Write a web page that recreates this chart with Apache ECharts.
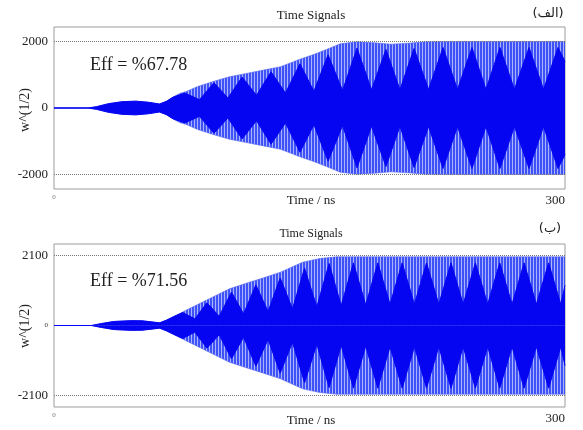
<!DOCTYPE html>
<html><head><meta charset="utf-8">
<script src="https://cdn.jsdelivr.net/npm/echarts@6/dist/echarts.min.js"></script>
<style>html,body{margin:0;padding:0;background:#fff}#c{width:583px;height:430px}</style>
</head><body><div id="c"></div>
<script>
// ---- data (envelopes of the time signals) ----
const xTickLabels = [0, 300];
const topTicks = [-2000, 0, 2000];
const botTicks = [-2100, 0, 2100];

// panel (الف): outer envelope
const topOuterT = [0, 20, 25, 32, 40, 48, 55, 62, 66, 70, 74, 78, 84, 93, 103, 113, 123, 133, 144, 152, 160, 168, 178, 188, 198, 208, 218, 230, 300];
const topOuterV = [0, 0, 40, 130, 190, 205, 175, 120, 200, 330, 440, 500, 640, 790, 940, 1040, 1140, 1240, 1460, 1600, 1760, 1930, 1990, 1960, 1920, 1950, 1990, 2000, 2000];
// panel (الف): dense (dark) core, beat peaks and nodes
const topInnerT = [0, 20, 25, 32, 40, 48, 55, 62, 66, 70, 76.9, 85.4, 93.9, 102.1, 110.4, 118.9, 127.4, 135.9, 144.4, 152.6, 160.9, 169.4, 177.9, 186.4, 194.9, 203.1, 211.4, 219.9, 228.4, 236.9, 245.4, 253.6, 261.8, 270.3, 278.9, 287.4, 295.9, 300];
const topInnerV = [0, 0, 40, 130, 190, 205, 175, 120, 200, 330, 450, 250, 760, 300, 930, 380, 1090, 450, 1330, 500, 1600, 530, 1800, 550, 1760, 550, 1790, 560, 1820, 560, 1820, 560, 1820, 560, 1820, 560, 1820, 1400];

// panel (ب): outer envelope
const botOuterT = [0, 22, 28, 35, 45, 52, 57, 62, 66, 70, 74, 78, 84, 93, 103, 113, 123, 133, 140, 146, 156, 166, 300];
const botOuterV = [0, 0, 60, 120, 145, 140, 110, 80, 160, 260, 360, 470, 620, 850, 1100, 1270, 1430, 1600, 1760, 1900, 2010, 2060, 2060];
// panel (ب): dense (dark) core
const botInnerT = [0, 22, 28, 35, 45, 52, 57, 62, 66, 70, 75.5, 82.7, 89.8, 97.0, 104.2, 111.3, 118.5, 125.7, 132.8, 140.0, 147.1, 154.3, 161.5, 168.6, 175.8, 183.0, 190.1, 197.3, 204.4, 211.6, 218.7, 225.9, 233.1, 240.2, 247.4, 254.6, 261.7, 268.9, 276.0, 283.2, 290.4, 297.5, 300];
const botInnerV = [0, 0, 60, 120, 145, 140, 110, 80, 160, 260, 390, 200, 680, 280, 1000, 350, 1220, 420, 1430, 500, 1720, 560, 1860, 600, 1880, 620, 1880, 640, 1880, 640, 1880, 640, 1880, 640, 1880, 640, 1880, 640, 1880, 640, 1880, 640, 1200];

// ---- styling ----
const SERIF = '"Liberation Serif", "DejaVu Serif", serif';
const DARK = '#0505f2';
function stripes() {
  const c = document.createElement('canvas');
  c.width = 3; c.height = 4;
  const g = c.getContext('2d');
  g.fillStyle = '#3f52f7'; g.fillRect(0, 0, 3, 4);
  g.fillStyle = '#a9b3fc'; g.fillRect(2, 0, 1, 4);
  return c;
}
const pat = { image: stripes(), repeat: 'repeat' };

function pairs(T, V, sign) { return T.map((t, i) => [t, sign * V[i]]); }

function panelSeries(idx, oT, oV, iT, iV, lines) {
  const base = { type: 'line', xAxisIndex: idx, yAxisIndex: idx, showSymbol: false, symbol: 'none', silent: true, animation: false };
  return [
    Object.assign({}, base, { data: pairs(oT, oV, 1), lineStyle: { width: 0.6, color: '#5566f8' }, areaStyle: { color: pat, opacity: 1, origin: 'auto' }, z: 2,
      markLine: { silent: true, symbol: 'none', label: { show: false }, animation: false, lineStyle: { type: 'dotted', color: '#777', width: 1 }, data: lines.map(v => ({ yAxis: v })) } }),
    Object.assign({}, base, { data: pairs(oT, oV, -1), lineStyle: { width: 0.6, color: '#5566f8' }, areaStyle: { color: pat, opacity: 1, origin: 'auto' }, z: 2 }),
    Object.assign({}, base, { data: pairs(iT, iV, 1), lineStyle: { width: 1, color: DARK }, areaStyle: { color: DARK, opacity: 1, origin: 'auto' }, z: 3 }),
    Object.assign({}, base, { data: pairs(iT, iV, -1), lineStyle: { width: 1, color: DARK }, areaStyle: { color: DARK, opacity: 1, origin: 'auto' }, z: 3 })
  ];
}

function xAxis(idx) {
  return {
    type: 'value', gridIndex: idx, min: 0, max: 300,
    axisLine: { show: false }, axisTick: { show: false }, splitLine: { show: false },
    axisLabel: {
      customValues: xTickLabels, margin: 5, alignMinLabel: 'center', alignMaxLabel: 'right',
      formatter: v => v === 0 ? '{s|0}' : '{b|' + v + '}',
      rich: { s: { fontSize: 7, color: '#777', fontFamily: SERIF, padding: [0, 0, 2, 0] }, b: { fontSize: 13, color: '#222', fontFamily: SERIF, padding: [0, 0, 0, 0] } }
    }
  };
}
function yAxis(idx, lim, ticks, smallZero) {
  return {
    type: 'value', gridIndex: idx, min: -lim, max: lim,
    axisLine: { show: false }, axisTick: { show: false }, splitLine: { show: false },
    axisLabel: {
      customValues: ticks, margin: 6,
      formatter: v => (v === 0 && smallZero) ? '{s|0}' : '{b|' + v + '}',
      rich: { s: { fontSize: 7, color: '#333', fontFamily: SERIF }, b: { fontSize: 13, color: '#222', fontFamily: SERIF } }
    }
  };
}

function txt(x, y, s, size, font, extra) {
  return Object.assign({ type: 'text', x: x, y: y, silent: true,
    style: { text: s, fontSize: size, fontFamily: font, fill: '#222', align: 'center', verticalAlign: 'middle' } }, extra || {});
}

const chart = echarts.init(document.getElementById('c'), null, { renderer: 'canvas' });
chart.setOption({
  animation: false,
  backgroundColor: '#fff',
  grid: [
    { left: 54, right: 18, top: 27, height: 162, show: true, borderColor: '#9c9c9c', borderWidth: 1, backgroundColor: 'transparent' },
    { left: 54, right: 18, top: 244, height: 163, show: true, borderColor: '#9c9c9c', borderWidth: 1, backgroundColor: 'transparent' }
  ],
  xAxis: [xAxis(0), xAxis(1)],
  yAxis: [yAxis(0, 2436, topTicks, false), yAxis(1, 2445, botTicks, true)],
  series: [].concat(
    panelSeries(0, topOuterT, topOuterV, topInnerT, topInnerV, [2000, -2000]),
    panelSeries(1, botOuterT, botOuterV, botInnerT, botInnerV, [2100, -2100])
  ),
  graphic: [
    txt(311, 16, 'Time Signals', 13, SERIF),
    txt(548, 14, '(الف)', 13, '"DejaVu Sans", "Noto Sans", sans-serif'),
    txt(311, 201, 'Time / ns', 13, SERIF),
    txt(25, 110, 'w^(1/2)', 14, SERIF, { rotation: Math.PI / 2 }),
    txt(90, 65, 'Eff = %67.78', 18, SERIF, { style: { text: 'Eff = %67.78', fontSize: 18, fontFamily: SERIF, fill: '#222', align: 'left', verticalAlign: 'middle' } }),
    txt(311, 234, 'Time Signals', 12, SERIF),
    txt(550, 229, '(ب)', 13, '"DejaVu Sans", "Noto Sans", sans-serif'),
    txt(311, 421, 'Time / ns', 13, SERIF),
    txt(25, 326, 'w^(1/2)', 14, SERIF, { rotation: Math.PI / 2 }),
    txt(90, 281, 'Eff = %71.56', 18, SERIF, { style: { text: 'Eff = %71.56', fontSize: 18, fontFamily: SERIF, fill: '#222', align: 'left', verticalAlign: 'middle' } })
  ]
});
</script>
</body></html>
